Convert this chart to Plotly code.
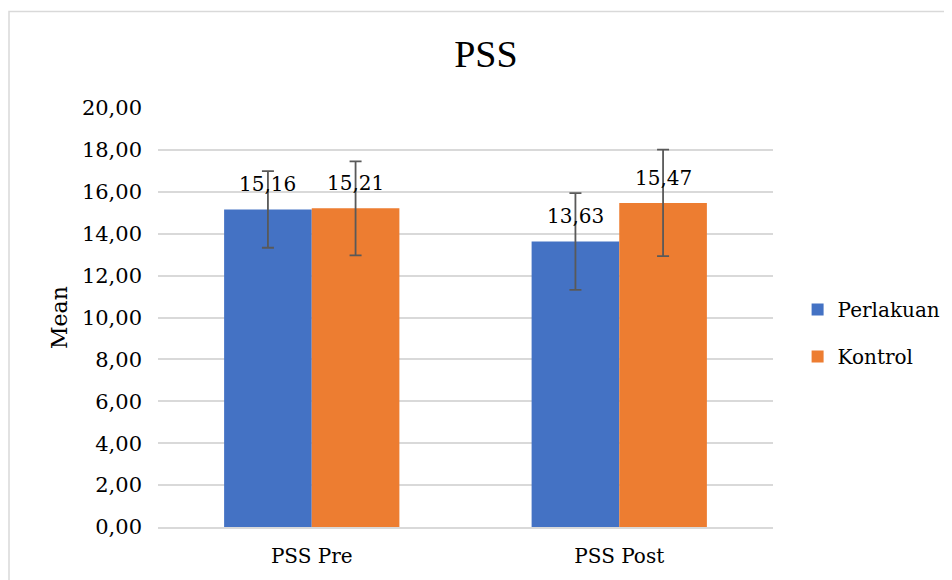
import plotly.graph_objects as go

categories = ["PSS Pre", "PSS Post"]
perlakuan = [15.16, 13.63]
kontrol = [15.21, 15.47]
perlakuan_err = [1.83, 2.31]
kontrol_err = [2.24, 2.54]
perlakuan_labels = ["15,16", "13,63"]
kontrol_labels = ["15,21", "15,47"]
tick_vals = [0, 2, 4, 6, 8, 10, 12, 14, 16, 18, 20]
tick_text = ["0,00", "2,00", "4,00", "6,00", "8,00", "10,00", "12,00", "14,00", "16,00", "18,00", "20,00"]

FONT = "DejaVu Serif"
TFONT = "Liberation Serif"
err_style = dict(type="data", visible=True, color="#595959", thickness=1.8, width=6)

fig = go.Figure()
fig.add_trace(go.Bar(
    name="Perlakuan", x=categories, y=perlakuan, legendgroup="a",
    marker=dict(color="#4472C4", line=dict(width=0)),
    error_y=dict(array=perlakuan_err, **err_style),
))
fig.add_trace(go.Bar(
    name="Kontrol", x=categories, y=kontrol, legendgroup="b",
    marker=dict(color="#ED7D31", line=dict(width=0)),
    error_y=dict(array=kontrol_err, **err_style),
))

annotations = []
for cat, val, lab in zip(categories, perlakuan, perlakuan_labels):
    annotations.append(dict(x=cat, y=val, text=lab, xref="x", yref="y", showarrow=False,
                            xanchor="center", yanchor="bottom", xshift=-44, yshift=11,
                            font=dict(family=FONT, size=20, color="#000000")))
for cat, val, lab in zip(categories, kontrol, kontrol_labels):
    annotations.append(dict(x=cat, y=val, text=lab, xref="x", yref="y", showarrow=False,
                            xanchor="center", yanchor="bottom", xshift=44, yshift=11,
                            font=dict(family=FONT, size=20, color="#000000")))

fig.update_layout(
    width=952, height=580,
    margin=dict(l=150, r=187, t=100, b=61),
    paper_bgcolor="white", plot_bgcolor="white",
    font=dict(family=FONT, size=20, color="#000000"),
    title=dict(text="PSS", x=0.502, xanchor="center", y=0.921, yanchor="middle",
               font=dict(family=TFONT, size=38, color="#000000")),
    barmode="group", bargap=0.43, bargroupgap=0,
    showlegend=True,
    legend=dict(x=1.04, xanchor="left", y=0.463, yanchor="middle",
                font=dict(family=FONT, size=20), tracegroupgap=18,
                traceorder="grouped", bgcolor="rgba(0,0,0,0)"),
    xaxis=dict(showline=True, linecolor="#D9D9D9", linewidth=1.5, ticks="",
               tickfont=dict(family=FONT, size=20), showgrid=False,
               ticklabelstandoff=10),
    yaxis=dict(range=[0, 20], tickvals=tick_vals, ticktext=tick_text,
               showgrid=True, gridcolor="#D9D9D9", gridwidth=1.5,
               zeroline=False, showline=False, ticks="", ticklen=0,
               ticklabelstandoff=15,
               tickfont=dict(family=FONT, size=21),
               title=dict(text="Mean", font=dict(family=FONT, size=22), standoff=8)),
    annotations=annotations,
    shapes=[dict(type="rect", xref="paper", yref="paper",
                 x0=(1 - 150) / 615, x1=1.5, y0=-0.5, y1=(519 - 3.5) / 419,
                 line=dict(color="#D9D9D9", width=1.5), fillcolor="rgba(0,0,0,0)",
                 layer="below")],
)

fig.write_html("out.html")
